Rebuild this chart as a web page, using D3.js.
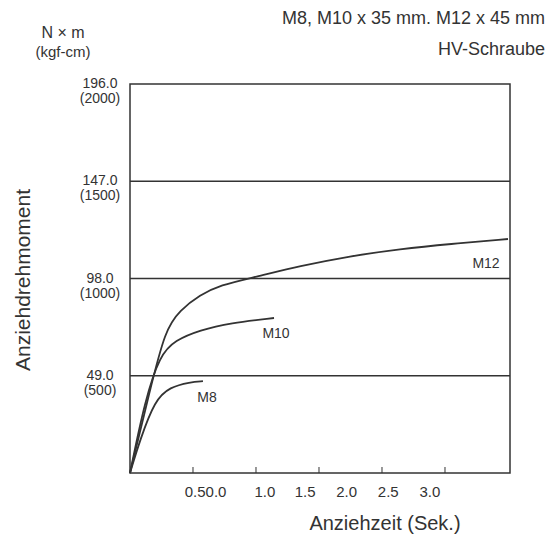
<!DOCTYPE html><html><head><meta charset="utf-8"><script src="https://cdn.jsdelivr.net/npm/d3@7"></script>
<style>body{margin:0;background:#fff}text{font-family:"Liberation Sans",Arial,sans-serif;fill:#333}</style></head><body>
<script>
const yTicks=[0,49,98,147,196];
const yLab1=["","49.0","98.0","147.0","196.0"];
const yLab2=["","(500)","(1000)","(1500)","(2000)"];
const xTicks=[0.5,1.0,1.5,2.0,2.5];
const xLabels=["0.50.0","1.0","1.5","2.0","2.5","3.0"];
const xLabelPos=[0.6,1.07,1.39,1.72,2.05,2.38];
const m12x=[0,0.159,0.278,0.397,0.556,0.714,0.992,1.349,1.746,2.143,2.54,3.0];
const m12y=[0,41.8,72,82.1,89.7,94.7,98.7,104.3,109.3,112.8,115.4,117.9];
const m10x=[0,0.119,0.238,0.357,0.556,0.794,1.143];
const m10y=[0,36.8,59.4,66.9,72,75.6,78.1];
const m8x=[0,0.079,0.198,0.317,0.476,0.579];
const m8y=[0,16.6,36.8,43.3,45.8,46.3];
const W=548,H=537,L=130,R=510,T=84,B=473;
const svg=d3.select("body").append("svg").attr("width",W).attr("height",H);
const x=d3.scaleLinear().domain([0,3.016]).range([L,R]);
const y=d3.scaleLinear().domain([0,196]).range([B,T]);
svg.append("rect").attr("x",L).attr("y",T).attr("width",R-L).attr("height",B-T).attr("fill","none").attr("stroke","#333").attr("stroke-width",1.5);
svg.selectAll(".g").data(yTicks.slice(1,4)).join("line").attr("x1",L).attr("x2",R).attr("y1",d=>y(d)).attr("y2",d=>y(d)).attr("stroke","#333").attr("stroke-width",1.3);
yTicks.forEach((d,i)=>{if(!i)return;
 svg.append("text").attr("x",100).attr("y",y(d)+4).attr("text-anchor","middle").attr("font-size",14).text(yLab1[i]);
 svg.append("text").attr("x",100).attr("y",y(d)+19).attr("text-anchor","middle").attr("font-size",14).text(yLab2[i]);});
svg.selectAll(".xt").data(xTicks).join("line").attr("x1",d=>x(d)).attr("x2",d=>x(d)).attr("y1",B).attr("y2",B-6).attr("stroke","#333");
svg.selectAll(".xl").data(xLabels).join("text").attr("x",(d,i)=>x(xLabelPos[i])).attr("y",497).attr("text-anchor","middle").attr("font-size",15).text(d=>d);
const line=d3.line().x(d=>x(d[0])).y(d=>y(d[1])).curve(d3.curveBasis);
[[m12x,m12y],[m10x,m10y],[m8x,m8y]].forEach(([a,b])=>svg.append("path").attr("d",line(a.map((v,i)=>[v,b[i]]))).attr("fill","none").attr("stroke","#333").attr("stroke-width",1.8));
svg.append("text").attr("x",486).attr("y",268).attr("text-anchor","middle").attr("font-size",14).text("M12");
svg.append("text").attr("x",276).attr("y",338).attr("text-anchor","middle").attr("font-size",14).text("M10");
svg.append("text").attr("x",207).attr("y",402).attr("text-anchor","middle").attr("font-size",14).text("M8");
svg.append("text").attr("x",545).attr("y",24).attr("text-anchor","end").attr("font-size",18).text("M8, M10 x 35 mm. M12 x 45 mm");
svg.append("text").attr("x",545).attr("y",55).attr("text-anchor","end").attr("font-size",18).text("HV-Schraube");
svg.append("text").attr("x",63).attr("y",38).attr("text-anchor","middle").attr("font-size",16).text("N × m");
svg.append("text").attr("x",63).attr("y",57).attr("text-anchor","middle").attr("font-size",15).text("(kgf-cm)");
svg.append("text").attr("transform","translate(30,280) rotate(-90)").attr("text-anchor","middle").attr("font-size",21).text("Anziehdrehmoment");
svg.append("text").attr("x",385).attr("y",530).attr("text-anchor","middle").attr("font-size",20).text("Anziehzeit (Sek.)");
</script></body></html>
